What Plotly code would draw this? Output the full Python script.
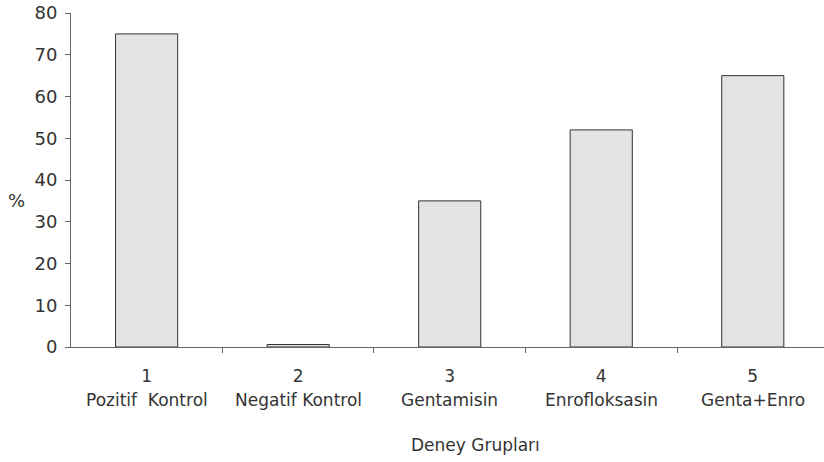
import plotly.graph_objects as go

categories = ["1", "2", "3", "4", "5"]
group_names = ["Pozitif  Kontrol", "Negatif Kontrol", "Gentamisin", "Enrofloksasin", "Genta+Enro"]
values = [75, 0.6, 35, 52, 65]
y_ticks = [0, 10, 20, 30, 40, 50, 60, 70, 80]

xpos = list(range(len(categories)))

fig = go.Figure()
fig.add_trace(go.Bar(
    x=xpos, y=values,
    marker=dict(color="#e3e3e5", line=dict(color="#333333", width=1)),
    width=0.41,
))

TXT = "#333333"
font_family = "DejaVu Sans, sans-serif"

annotations = [
    dict(text=name, x=i, xref="x", yref="paper", y=-0.159,
         xanchor="center", yanchor="middle", showarrow=False,
         font=dict(size=17, color=TXT))
    for i, name in zip(xpos, group_names)
]
annotations += [
    dict(text="%", xref="paper", yref="paper", x=-0.072, y=0.44,
         xanchor="center", yanchor="middle",
         showarrow=False, font=dict(size=18, color=TXT)),
    dict(text="Deney Grupları", xref="paper", yref="paper", x=0.537, y=-0.293,
         xanchor="center", yanchor="middle",
         showarrow=False, font=dict(size=17, color=TXT)),
]

fig.update_layout(
    width=824, height=462,
    margin=dict(l=71, r=0, t=13, b=115),
    paper_bgcolor="white", plot_bgcolor="white",
    showlegend=False,
    font=dict(family=font_family, color=TXT, size=16),
    xaxis=dict(
        range=[-0.499, 4.47],
        tickmode="array", tickvals=xpos, ticktext=categories,
        ticks="",
        minor=dict(tick0=0.5, dtick=1, ticks="outside", ticklen=5,
                   tickcolor="#666666", showgrid=False),
        showline=True, linecolor="#666666", linewidth=1,
        showgrid=False, zeroline=False, automargin=False,
        tickfont=dict(size=17, color=TXT),
        ticklabelstandoff=14,
    ),
    yaxis=dict(
        range=[0, 80],
        tickmode="array", tickvals=y_ticks,
        ticks="outside", ticklen=5, tickcolor="#666666",
        showline=True, linecolor="#666666", linewidth=1,
        showgrid=False, zeroline=False, automargin=False,
        tickfont=dict(size=18, color=TXT),
        ticklabelstandoff=4,
    ),
    annotations=annotations,
)

fig.write_html("out.html", config={"displayModeBar": False},
               post_script="document.body.style.margin='0';")
